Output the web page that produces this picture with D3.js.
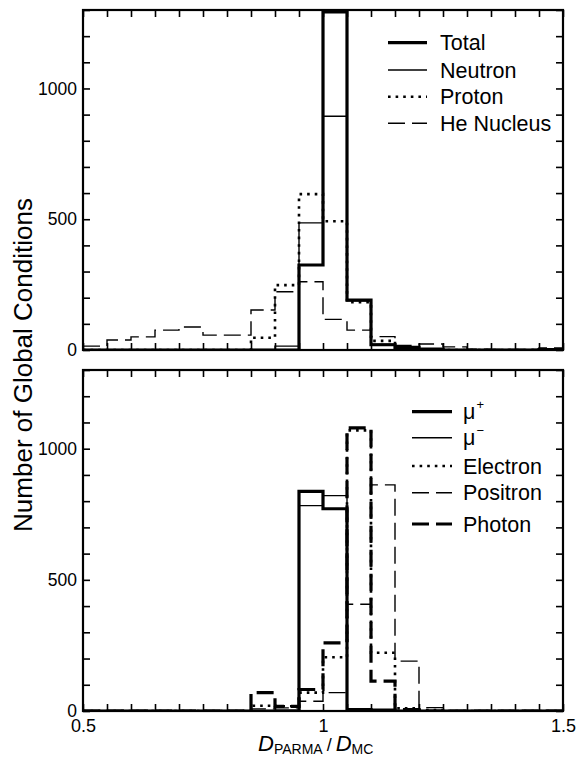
<!DOCTYPE html>
<html>
<head>
<meta charset="utf-8">
<script src="https://cdn.jsdelivr.net/npm/d3@7"></script>
<style>
  body { margin: 0; background: #fff; }
  svg { display: block; }
  text { font-family: "Liberation Sans", Arial, Helvetica, sans-serif; fill: #000; }
</style>
</head>
<body>
<svg id="chart" width="578" height="763"></svg>
<script>
// Bin edges of the D_PARMA / D_MC histogram (20 bins of width 0.05)
const binEdges = [0.50, 0.55, 0.60, 0.65, 0.70, 0.75, 0.80, 0.85, 0.90, 0.95, 1.00,
                  1.05, 1.10, 1.15, 1.20, 1.25, 1.30, 1.35, 1.40, 1.45, 1.50];

// Upper panel: counts per bin
const totalCounts   = [0, 0, 0, 0, 0, 0, 0, 0, 0, 325, 1293, 191, 20, 10, 3, 0, 0, 0, 0, 2];
const neutronCounts = [0, 0, 0, 0, 0, 0, 0, 0, 15, 486, 894, 188, 22, 8, 2, 0, 0, 0, 0, 1];
const protonCounts  = [0, 0, 0, 0, 0, 0, 0, 47, 248, 596, 492, 183, 35, 8, 2, 0, 0, 0, 0, 0];
const heCounts      = [15, 38, 50, 76, 88, 57, 57, 153, 223, 261, 117, 76, 51, 17, 23, 12, 3, 2, 2, 8];

// Lower panel: counts per bin
const muPlusCounts   = [0, 0, 0, 0, 0, 0, 0, 0, 0, 837, 771, 5, 3, 0, 0, 0, 0, 0, 0, 0];
const muMinusCounts  = [0, 0, 0, 0, 0, 0, 0, 0, 3, 783, 821, 3, 0, 0, 0, 0, 0, 0, 0, 0];
const electronCounts = [0, 0, 0, 0, 0, 0, 0, 20, 18, 70, 205, 1070, 222, 10, 4, 0, 0, 0, 0, 0];
const positronCounts = [0, 0, 0, 0, 0, 0, 0, 8, 12, 37, 70, 407, 862, 190, 13, 0, 0, 0, 0, 0];
const photonCounts   = [0, 0, 0, 0, 0, 0, 0, 70, 18, 82, 260, 1079, 114, 5, 0, 0, 0, 0, 0, 0];

// Axis ticks
const xTickValues = [0.50, 0.55, 0.60, 0.65, 0.70, 0.75, 0.80, 0.85, 0.90, 0.95, 1.00,
                     1.05, 1.10, 1.15, 1.20, 1.25, 1.30, 1.35, 1.40, 1.45, 1.50];
const xTickLabels = { 0.5: "0.5", 1: "1", 1.5: "1.5" };
const yTickValues = [0, 100, 200, 300, 400, 500, 600, 700, 800, 900, 1000, 1100, 1200, 1300];
const yTickLabels = { 0: "0", 500: "500", 1000: "1000" };

// Line styles
const styles = {
  thickSolid: { w: 3.2, dash: null },
  thinSolid:  { w: 1.4, dash: null },
  dotted:     { w: 2.6, dash: "2.6,5" },
  thinDash:   { w: 1.4, dash: "17,7" },
  thickDash:  { w: 3.2, dash: "17,7" }
};

const topSeries = [
  { name: "Total",      values: totalCounts,   style: "thickSolid" },
  { name: "Neutron",    values: neutronCounts, style: "thinSolid" },
  { name: "Proton",     values: protonCounts,  style: "dotted" },
  { name: "He Nucleus", values: heCounts,      style: "thinDash" }
];
const bottomSeries = [
  { name: "μ", sup: "+", values: muPlusCounts,   style: "thickSolid" },
  { name: "μ", sup: "−", values: muMinusCounts,  style: "thinSolid" },
  { name: "Electron",    values: electronCounts, style: "dotted" },
  { name: "Positron",    values: positronCounts, style: "thinDash" },
  { name: "Photon",      values: photonCounts,   style: "thickDash" }
];

const svg = d3.select("#chart");
const left = 83, right = 563;
const x = d3.scaleLinear().domain([0.5, 1.5]).range([left, right]);

function drawPanel(top, bottom, series, legend, clipId, showXLabels) {
  const y = d3.scaleLinear().domain([0, 1300]).range([bottom, top]);
  const g = svg.append("g");

  g.append("clipPath").attr("id", clipId)
    .append("rect").attr("x", left).attr("y", top)
    .attr("width", right - left).attr("height", bottom - top);

  // Histogram step lines (drawn so thick lines end on top)
  const line = d3.line()
    .x(d => x(d[0])).y(d => y(d[1]))
    .curve(d3.curveStepAfter);
  const order = series.slice().reverse();
  order.forEach(s => {
    const pts = s.values.map((v, i) => [binEdges[i], v]);
    pts.push([binEdges[binEdges.length - 1], s.values[s.values.length - 1]]);
    const st = styles[s.style];
    g.append("path")
      .attr("clip-path", `url(#${clipId})`)
      .attr("d", line(pts))
      .attr("fill", "none")
      .attr("stroke", "#000")
      .attr("stroke-width", st.w)
      .attr("stroke-dasharray", st.dash)
      .attr("stroke-linejoin", "miter");
  });

  // Axes with inward ticks on all four sides
  const tickStyle = sel => {
    sel.select(".domain").remove();
    sel.selectAll(".tick line").attr("stroke", "#000").attr("stroke-width", 1.6);
  };
  const fmtY = d => yTickLabels[d] !== undefined ? yTickLabels[d] : "";
  const fmtX = d => showXLabels && xTickLabels[d] !== undefined ? xTickLabels[d] : "";

  g.append("g").attr("transform", `translate(${left},0)`)
    .call(d3.axisLeft(y).tickValues(yTickValues).tickSize(-7).tickPadding(6).tickFormat(fmtY))
    .call(tickStyle)
    .call(a => a.selectAll("text").attr("font-size", 17.5).attr("font-family", "Liberation Sans, Arial, sans-serif"));
  g.append("g").attr("transform", `translate(${right},0)`)
    .call(d3.axisRight(y).tickValues(yTickValues).tickSize(-7).tickFormat(""))
    .call(tickStyle);
  g.append("g").attr("transform", `translate(0,${top})`)
    .call(d3.axisTop(x).tickValues(xTickValues).tickSize(-7).tickFormat(""))
    .call(tickStyle);
  g.append("g").attr("transform", `translate(0,${bottom})`)
    .call(d3.axisBottom(x).tickValues(xTickValues).tickSize(-7).tickPadding(8).tickFormat(fmtX))
    .call(tickStyle)
    .call(a => a.selectAll("text").attr("font-size", 18).attr("font-family", "Liberation Sans, Arial, sans-serif"));

  // Frame
  g.append("rect")
    .attr("x", left).attr("y", top)
    .attr("width", right - left).attr("height", bottom - top)
    .attr("fill", "none").attr("stroke", "#000").attr("stroke-width", 2.2);

  // Legend
  const lg = g.append("g");
  series.forEach((s, i) => {
    const ry = legend.rows[i];
    const st = styles[s.style];
    lg.append("line")
      .attr("x1", legend.x1).attr("x2", legend.x2)
      .attr("y1", ry).attr("y2", ry)
      .attr("stroke", "#000").attr("stroke-width", st.w)
      .attr("stroke-dasharray", st.dash);
    const t = lg.append("text")
      .attr("x", legend.tx).attr("y", ry).attr("dy", "0.35em")
      .attr("font-size", 21.5);
    t.append("tspan").text(s.name);
    if (s.sup) {
      t.append("tspan").attr("dy", "-0.75em").attr("dx", 1).attr("font-size", 13).text(s.sup);
    }
  });
  return y;
}

drawPanel(10, 350, topSeries,
  { x1: 388, x2: 427, tx: 440, rows: [42.7, 70, 96.7, 123.3] }, "clipTop", false);
drawPanel(370, 711, bottomSeries,
  { x1: 412, x2: 452, tx: 463, rows: [411.7, 437.7, 466, 492.7, 524] }, "clipBottom", true);

// Shared y-axis title
svg.append("text")
  .attr("transform", "translate(32,365) rotate(-90)")
  .attr("text-anchor", "middle")
  .attr("font-size", 26)
  .text("Number of Global Conditions");

// x-axis title: D_PARMA / D_MC
const xt = svg.append("text").attr("x", 258).attr("y", 751).attr("font-size", 22);
xt.append("tspan").attr("font-style", "italic").text("D");
xt.append("tspan").attr("font-size", 14).attr("dy", 3).text("PARMA");
xt.append("tspan").attr("font-size", 18).attr("dy", -3).attr("dx", 4).text("/");
xt.append("tspan").attr("font-style", "italic").attr("dx", 4).text("D");
xt.append("tspan").attr("font-size", 14).attr("dy", 3).text("MC");
</script>
</body>
</html>
